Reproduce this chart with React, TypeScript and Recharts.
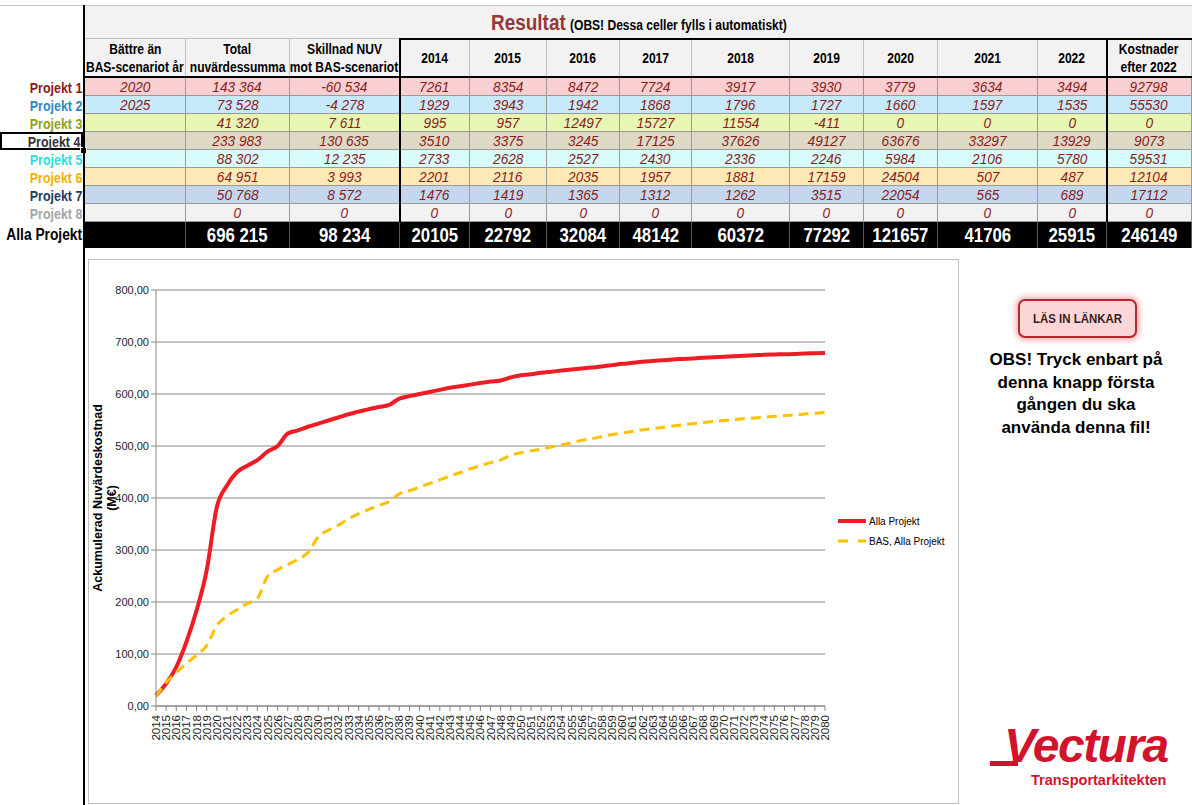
import React from 'react'
import { LineChart, Line, XAxis, YAxis, CartesianGrid, Legend, Label } from 'recharts'

// chart categories and cumulative values (M€)
const years = [
  '2014', '2015', '2016', '2017', '2018', '2019', '2020', '2021', '2022', '2023',
  '2024', '2025', '2026', '2027', '2028', '2029', '2030', '2031', '2032', '2033',
  '2034', '2035', '2036', '2037', '2038', '2039', '2040', '2041', '2042', '2043',
  '2044', '2045', '2046', '2047', '2048', '2049', '2050', '2051', '2052', '2053',
  '2054', '2055', '2056', '2057', '2058', '2059', '2060', '2061', '2062', '2063',
  '2064', '2065', '2066', '2067', '2068', '2069', '2070', '2071', '2072', '2073',
  '2074', '2075', '2076', '2077', '2078', '2079', '2080',
]

const allaProjekt = [
  20.1, 42.9, 75.0, 123.1, 183.5, 260.8, 382.4, 424.1, 450.0, 462,
  473, 489, 500, 524, 530, 537, 543, 549, 555, 561,
  566, 571, 575, 579, 591, 596, 600, 604, 608, 612,
  615, 618, 621, 624, 626, 632, 636, 638, 641, 643,
  645, 647, 649, 651, 653, 655.5, 658, 660, 662, 663.5,
  665, 666.5, 667.5, 668.5, 669.5, 670.5, 671.5, 672.5, 673.5, 674.5,
  675.5, 676, 676.5, 677, 678, 678.5, 679,
]

const basAllaProjekt = [
  18, 45, 64, 82, 98, 116, 155, 173, 185, 197,
  207, 249, 262, 272, 282, 295, 325, 338, 348, 360,
  370, 378, 386, 393, 408, 414, 421, 428, 435, 442,
  449, 456, 462, 468, 473, 482, 487, 491, 494, 498,
  502, 506, 511, 514, 518, 522, 525, 528, 531, 533.5,
  536, 538.5, 541, 543, 545, 547, 549, 551, 552.5, 554,
  555.5, 557, 558.5, 560, 561.5, 563, 564.5,
]

const yTicks = [0, 100, 200, 300, 400, 500, 600, 700, 800]

// result table
const tableYears = ['2014', '2015', '2016', '2017', '2018', '2019', '2020', '2021', '2022']
const projectNames = ['Projekt 1', 'Projekt 2', 'Projekt 3', 'Projekt 4', 'Projekt 5', 'Projekt 6', 'Projekt 7', 'Projekt 8']
const betterYear = ['2020', '2025', '', '', '', '', '', '']
const totalNuv = ['143 364', '73 528', '41 320', '233 983', '88 302', '64 951', '50 768', '0']
const diffNuv = ['-60 534', '-4 278', '7 611', '130 635', '12 235', '3 993', '8 572', '0']
const yearlyCosts = [
  [7261, 8354, 8472, 7724, 3917, 3930, 3779, 3634, 3494],
  [1929, 3943, 1942, 1868, 1796, 1727, 1660, 1597, 1535],
  [995, 957, 12497, 15727, 11554, -411, 0, 0, 0],
  [3510, 3375, 3245, 17125, 37626, 49127, 63676, 33297, 13929],
  [2733, 2628, 2527, 2430, 2336, 2246, 5984, 2106, 5780],
  [2201, 2116, 2035, 1957, 1881, 17159, 24504, 507, 487],
  [1476, 1419, 1365, 1312, 1262, 3515, 22054, 565, 689],
  [0, 0, 0, 0, 0, 0, 0, 0, 0],
]
const afterCosts = [92798, 55530, 0, 9073, 59531, 12104, 17112, 0]
const allTotals = ['696 215', '98 234']
const allYearTotals = [20105, 22792, 32084, 48142, 60372, 77292, 121657, 41706, 25915]
const allAfter = 246149

const rowFill = ['#f9cfd1', '#c6eaf9', '#e8f6b4', '#ddd9c4', '#d8fbfb', '#fde9b6', '#c5d7ee', '#f2f2f2']
const labelColor = ['#8b1a1a', '#2f88c0', '#8ea21c', '#333333', '#2cdce6', '#f2b100', '#1f3a64', '#a6a6a6']

const sans = "'Liberation Sans', Arial, sans-serif"
const RED = '#ee1d25'
const GOLD = '#ffc000'
const AXIS = '#868686'

const colEdges = [85, 186, 290, 400, 470, 547, 620, 692, 790, 864, 938, 1038, 1107, 1192]
const HEAD_TOP = 39
const HEAD_BOTTOM = 78
const ROW_H = 18
const ALL_TOP = HEAD_BOTTOM + ROW_H * 8

const chartData = years.map((year, i) => ({ year, alla: allaProjekt[i], bas: basAllaProjekt[i] }))

// poor man's Arial Narrow
const N = ({ children, s = 0.87, origin = 'center' }: any) => (
  <span style={{ display: 'inline-block', whiteSpace: 'nowrap', transform: `scaleX(${s})`, transformOrigin: origin }}>
    {children}
  </span>
)

const YearTick = ({ x, y, payload }: any) => (
  <text
    x={x}
    y={y + 2}
    transform={`rotate(-90 ${x} ${y + 2})`}
    textAnchor="end"
    dy={4}
    fontSize={11.5}
    fontFamily={sans}
    fill="#222"
  >
    {payload.value}
  </text>
)

const YTitle = (props: any) => {
  const vb = props.viewBox || { x: 0, y: 30, width: 67, height: 416 }
  const cy = vb.y + vb.height / 2
  const x = 13
  return (
    <text
      transform={`rotate(-90 ${x} ${cy})`}
      x={x}
      y={cy}
      textAnchor="middle"
      fontWeight="bold"
      fontFamily={sans}
      fill="#000"
      style={{ fontSize: 12.5 }}
    >
      <tspan x={x} dy={0}>Ackumulerad Nuvärdeskostnad</tspan>
      <tspan x={x} dy={14}>(M€)</tspan>
    </text>
  )
}

const LegendBox = ({ payload }: any) => (
  <div style={{ fontFamily: sans, fontSize: 10, color: '#000' }}>
    {(payload || []).map((entry: any) => (
      <div key={entry.value} style={{ display: 'flex', alignItems: 'center', height: 20 }}>
        <svg width={30} height={8} style={{ marginRight: 1 }}>
          <line
            x1={0}
            y1={4}
            x2={28}
            y2={4}
            stroke={entry.color}
            strokeWidth={entry.dataKey === 'alla' ? 4 : 3}
            strokeDasharray={entry.dataKey === 'alla' ? undefined : '10 10'}
          />
        </svg>
        <span>{entry.value}</span>
      </div>
    ))}
  </div>
)

function Cell({ left, width, top, height, bg, children, style }: any) {
  return (
    <div
      style={{
        position: 'absolute',
        left,
        top,
        width,
        height,
        background: bg,
        boxSizing: 'border-box',
        borderRight: '1px solid #9a9a9a',
        borderBottom: '1px solid #9a9a9a',
        display: 'flex',
        alignItems: 'center',
        justifyContent: 'center',
        textAlign: 'center',
        overflow: 'visible',
        ...style,
      }}
    >
      {children}
    </div>
  )
}

function ResultTable() {
  const headers: string[][] = [
    ['Bättre än', 'BAS-scenariot år'],
    ['Total', 'nuvärdessumma'],
    ['Skillnad NUV', 'mot BAS-scenariot'],
    ...tableYears.map((y) => [y]),
    ['Kostnader', 'efter 2022'],
  ]
  const rows = projectNames.map((_, r) => [
    betterYear[r],
    totalNuv[r],
    diffNuv[r],
    ...yearlyCosts[r].map(String),
    String(afterCosts[r]),
  ])
  const allRow = ['', allTotals[0], allTotals[1], ...allYearTotals.map(String), String(allAfter)]

  return (
    <>
      {/* title band */}
      <div
        style={{
          position: 'absolute', left: 85, top: 6, width: 1107, height: HEAD_TOP - 6, background: '#f2f2f2',
          display: 'flex', alignItems: 'center', justifyContent: 'center', fontWeight: 'bold',
        }}
      >
        <N s={0.86}>
          <span style={{ color: '#953735', fontSize: 22 }}>Resultat</span>
          <span style={{ fontSize: 14, marginLeft: 5 }}>(OBS! Dessa celler fylls i automatiskt)</span>
        </N>
      </div>

      {/* header cells */}
      {headers.map((h, i) => (
        <Cell
          key={'h' + i}
          left={colEdges[i]}
          width={colEdges[i + 1] - colEdges[i]}
          top={HEAD_TOP}
          height={HEAD_BOTTOM - HEAD_TOP}
          bg="#f2f2f2"
          style={{ fontWeight: 'bold', fontSize: 14, lineHeight: '18px', flexDirection: 'column', borderRight: '1px solid #bfbfbf' }}
        >
          {h.map((line) => (
            <N key={line} s={0.86}>{line}</N>
          ))}
        </Cell>
      ))}

      {/* project rows */}
      {rows.map((row, r) =>
        row.map((v, i) => (
          <Cell
            key={'r' + r + '-' + i}
            left={colEdges[i]}
            width={colEdges[i + 1] - colEdges[i]}
            top={HEAD_BOTTOM + r * ROW_H}
            height={ROW_H}
            bg={rowFill[r]}
            style={{ fontStyle: 'italic', fontSize: 15.5, color: '#8a1c1c' }}
          >
            <N s={0.88}>{v}</N>
          </Cell>
        )),
      )}

      {/* totals row */}
      {allRow.map((v, i) => (
        <Cell
          key={'a' + i}
          left={colEdges[i]}
          width={colEdges[i + 1] - colEdges[i]}
          top={ALL_TOP}
          height={26}
          bg="#000"
          style={{ fontWeight: 'bold', fontSize: 20, color: '#fff', borderRight: '1px solid #555', borderBottom: 'none' }}
        >
          <N s={0.84}>{v}</N>
        </Cell>
      ))}

      {/* heavy rules */}
      <div style={{ position: 'absolute', left: 85, top: HEAD_TOP - 1, width: 315, height: 1, background: '#bfbfbf' }} />
      <div style={{ position: 'absolute', left: 399, top: HEAD_TOP - 1, width: 793, height: 2, background: '#000' }} />
      <div style={{ position: 'absolute', left: 85, top: HEAD_BOTTOM - 2, width: 1107, height: 2, background: '#000' }} />
      <div style={{ position: 'absolute', left: 399, top: HEAD_TOP - 1, width: 2, height: ALL_TOP - HEAD_TOP + 1, background: '#000' }} />
      <div style={{ position: 'absolute', left: 1106, top: HEAD_TOP - 1, width: 2, height: ALL_TOP - HEAD_TOP + 1, background: '#000' }} />

      {/* row labels */}
      {projectNames.map((name, r) => (
        <div
          key={name}
          style={{
            position: 'absolute', left: 0, top: HEAD_BOTTOM + r * ROW_H, width: 83, height: ROW_H,
            boxSizing: 'border-box', display: 'flex', alignItems: 'center', justifyContent: 'flex-end',
            paddingRight: 1, fontWeight: 'bold', fontSize: 15, color: labelColor[r], whiteSpace: 'nowrap',
            border: r === 3 ? '2px solid #000' : 'none',
          }}
        >
          <N s={0.83} origin="right">{name}</N>
        </div>
      ))}
      <div style={{ position: 'absolute', left: 80, top: HEAD_BOTTOM + 4 * ROW_H - 3, width: 5, height: 5, background: '#000', border: '1px solid #fff' }} />
      <div
        style={{
          position: 'absolute', left: 0, top: ALL_TOP, width: 82, height: 26, display: 'flex', alignItems: 'center',
          justifyContent: 'flex-end', whiteSpace: 'nowrap', fontWeight: 'bold', fontSize: 16, color: '#000',
        }}
      >
        <N s={0.86} origin="right">Alla Projekt</N>
      </div>
    </>
  )
}

export default function App() {
  return (
    <div
      style={{
        position: 'absolute', left: 0, top: 0, width: 1192, height: 805, background: '#fff',
        overflow: 'hidden', fontFamily: sans, color: '#000',
      }}
    >
      <div style={{ position: 'absolute', left: 0, top: 5, width: 1192, height: 1, background: '#c6c6c6' }} />
      <ResultTable />
      <div style={{ position: 'absolute', left: 83, top: 5, width: 2, height: 800, background: '#000' }} />

      {/* chart */}
      <div style={{ position: 'absolute', left: 88, top: 259, width: 869, height: 543, border: '1px solid #bfbfbf', background: '#fff' }}>
        <LineChart width={869} height={543} data={chartData} margin={{ top: 30, right: 133, bottom: 57, left: 0 }}>
          <CartesianGrid vertical={false} stroke={AXIS} strokeWidth={1} />
          <XAxis
            dataKey="year"
            interval={0}
            height={40}
            tick={<YearTick />}
            tickSize={5}
            tickLine={{ stroke: AXIS }}
            axisLine={{ stroke: AXIS }}
          />
          <YAxis
            width={67}
            domain={[0, 800]}
            ticks={yTicks}
            tickFormatter={(v: number) => v.toFixed(2).replace('.', ',')}
            tick={{ fontSize: 11, fill: '#222', fontFamily: sans }}
            tickSize={5}
            tickLine={{ stroke: AXIS }}
            axisLine={{ stroke: AXIS }}
          >
            <Label content={YTitle} />
          </YAxis>
          <Legend
            layout="horizontal"
            verticalAlign="middle"
            align="center"
            content={<LegendBox />}
            wrapperStyle={{ left: 749, top: 251, width: 130 }}
          />
          <Line
            type="monotone"
            dataKey="alla"
            name="Alla Projekt"
            stroke={RED}
            strokeWidth={4}
            dot={false}
            activeDot={false}
            isAnimationActive={false}
          />
          <Line
            type="monotone"
            dataKey="bas"
            name="BAS, Alla Projekt"
            stroke={GOLD}
            strokeWidth={3}
            strokeDasharray="10 6"
            dot={false}
            activeDot={false}
            isAnimationActive={false}
          />
        </LineChart>
      </div>

      {/* button + note */}
      <div
        style={{
          position: 'absolute', left: 1018, top: 299, width: 119, height: 39, boxSizing: 'border-box',
          background: '#fbd6d9', border: '2px solid #b3282d', borderRadius: 7,
          boxShadow: '0 0 6px 2px rgba(235, 90, 95, 0.55)', display: 'flex', alignItems: 'center',
          justifyContent: 'center', fontWeight: 'bold', fontSize: 13, color: '#3a1a1a',
        }}
      >
        <N s={0.88}>LÄS IN LÄNKAR</N>
      </div>
      <div
        style={{
          position: 'absolute', left: 981, top: 349, width: 190, textAlign: 'center', fontFamily: sans,
          fontWeight: 'bold', fontSize: 17, lineHeight: '22.5px', color: '#000',
        }}
      >
        OBS! Tryck enbart på<br />denna knapp första<br />gången du ska<br />använda denna fil!
      </div>

      {/* logo */}
      <div style={{ position: 'absolute', left: 990, top: 761, width: 28, height: 5, background: '#d3132b' }} />
      <div
        style={{
          position: 'absolute', left: 1004, top: 718, fontFamily: sans, fontWeight: 'bold', fontStyle: 'italic',
          fontSize: 48, letterSpacing: -1.5, color: '#d3132b', lineHeight: '56px',
        }}
      >
        Vectura
      </div>
      <div
        style={{
          position: 'absolute', left: 1031, top: 772, fontFamily: sans, fontWeight: 'bold', fontSize: 14.5,
          color: '#d3132b', lineHeight: '17px',
        }}
      >
        Transportarkitekten
      </div>
    </div>
  )
}
